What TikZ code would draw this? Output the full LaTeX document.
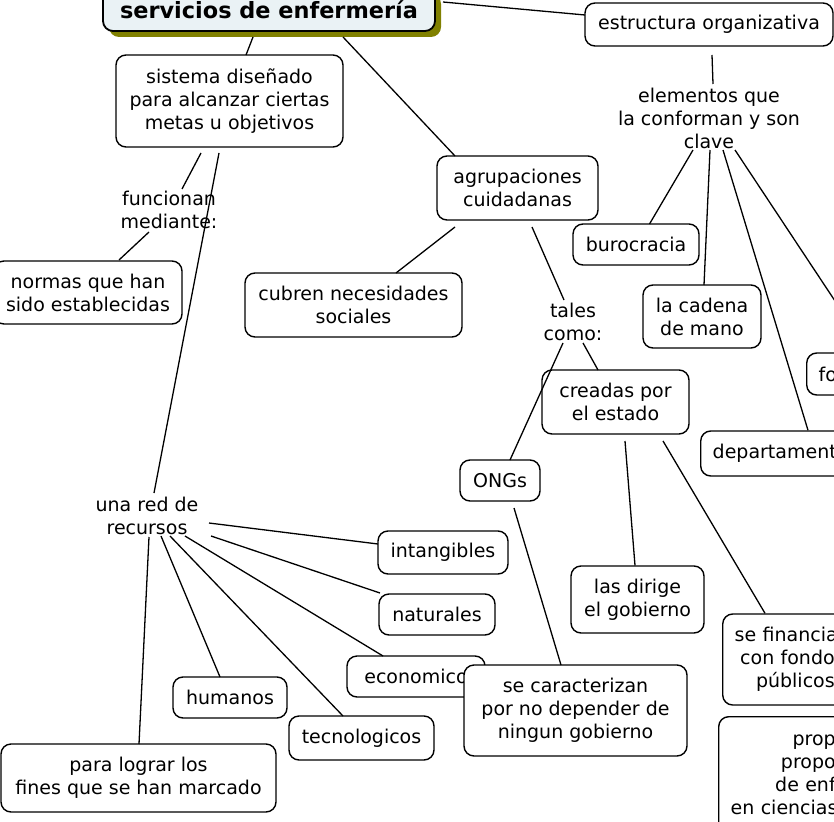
\documentclass[tikz,border=0pt]{standalone}
\usepackage{fontspec}
\setmainfont{DejaVu Sans}
\usetikzlibrary{calc}
\definecolor{olivesh}{RGB}{128,128,0}
\definecolor{titlefill}{RGB}{234,242,245}
\newcommand\mapfont{\fontsize{19}{23}\selectfont}
\newcommand\titlefont{\fontsize{22.4}{26}\selectfont\bfseries}
\begin{document}
\begin{tikzpicture}[x=1pt,y=-1pt,
  box/.style={draw, line width=1.4pt, rounded corners=10pt, fill=white, align=center, inner sep=0pt, font=\mapfont},
  lbl/.style={align=center, inner sep=1pt, font=\mapfont},
  con/.style={line width=1.3pt}]
\useasboundingbox (0,0) rectangle (834,821);
\clip (0,0) rectangle (834,821);
% title
\fill[olivesh, rounded corners=10pt] (109,-6) rectangle (441,37);
\node[box, fill=titlefill, line width=1.8pt, minimum width=332, minimum height=43, font=\titlefont] (title) at (269,9.5) {servicios de enfermería};
% nodes
\node[box, minimum width=248, minimum height=43] (estr) at (709,24.5) {estructura organizativa};
\node[lbl] (elem) at (709,118) {elementos que\\la conforman y son\\clave};
\node[box, minimum width=227, minimum height=92] (sist) at (229.5,101) {sistema diseñado\\para alcanzar ciertas\\metas u objetivos};
\node[lbl] (func) at (169,210) {funcionan\\mediante:};
\node[box, minimum width=188, minimum height=63] (normas) at (88,292.5) {normas que han\\sido establecidas};
\node[box, minimum width=161, minimum height=64] (agr) at (517.5,188) {agrupaciones\\cuidadanas};
\node[box, minimum width=217, minimum height=64] (cubren) at (353.5,305) {cubren necesidades\\sociales};
\node[box, minimum width=126, minimum height=41] (buro) at (636,244.5) {burocracia};
\node[box, minimum width=118, minimum height=63] (cadena) at (702,316.5) {la cadena\\de mano};
\node[box, anchor=west, align=left, inner xsep=12pt, text width=126pt, minimum height=42] (fo) at (806,374) {fo};
\node[lbl] (tales) at (573,322) {tales\\como:};
\node[box, minimum width=147, minimum height=64] (creadas) at (615.5,402) {creadas por\\el estado};
\node[box, anchor=west, align=left, inner xsep=12pt, text width=150pt, minimum height=45] (dep) at (700,453.5) {departament};
\node[box, minimum width=80, minimum height=41] (ongs) at (500,480.5) {ONGs};
\node[box, minimum width=133, minimum height=67] (dirige) at (637.5,599.5) {las dirige\\el gobierno};
\node[box, anchor=west, align=right, inner xsep=12pt, text width=100pt, minimum height=91] (financ) at (722,659.5) {\mbox{se financia}\\\mbox{con fondo}\\\mbox{públicos}};
\node[box, anchor=north west, align=right, inner xsep=12pt, text width=105pt, minimum height=117] (prop) at (718,716) {\mbox{prop}\\\mbox{propo}\\\mbox{de enf}\\\mbox{en ciencias}};
\node[lbl] (red) at (147,516) {una red de\\recursos};
\node[box, minimum width=130, minimum height=43] (intang) at (443,552.5) {intangibles};
\node[box, minimum width=116, minimum height=41] (natur) at (437,614.5) {naturales};
\node[box, minimum width=138, minimum height=41] (econ) at (416,676.5) {economico};
\node[box, minimum width=114, minimum height=41] (humanos) at (230,697.5) {humanos};
\node[box, minimum width=145, minimum height=44] (tecno) at (361.5,738) {tecnologicos};
\node[box, minimum width=223, minimum height=91] (carac) at (575.5,710.5) {se caracterizan\\por no depender de\\ningun gobierno};
\node[box, minimum width=275, minimum height=68] (lograr) at (138.5,778) {para lograr los\\fines que se han marcado};
% connectors
\draw[con] ($(title)+(174,-7.5)$) -- ($(estr)+(-124,-9.5)$);
\draw[con] ($(title)+(-16,27.5)$) -- ($(sist)+(16.5,-46)$);
\draw[con] ($(title)+(74,27.5)$) -- ($(agr)+(-62.5,-32)$);
\draw[con] ($(estr)+(3,30.5)$) -- ($(elem)+(4,-34)$);
\draw[con] ($(elem)+(-16,32)$) -- ($(buro)+(13.5,-20.5)$);
\draw[con] ($(elem)+(1,32)$) -- ($(cadena)+(2,-31.5)$);
\draw[con] ($(elem)+(14,32)$) -- ($(dep.north west)+(108,0)$);
\draw[con] ($(elem)+(26,32)$) -- ($(fo.north west)+(63,0)$);
\draw[con] ($(sist)+(-28.5,52)$) -- ($(func)+(13,-21)$);
\draw[con] ($(func)+(-20,22)$) -- ($(normas)+(31,-32.5)$);
\draw[con] ($(sist)+(-10.5,52)$) -- ($(red)+(7,-23)$);
\draw[con] ($(red)+(62,7)$) -- ($(intang)+(-65,-8.5)$);
\draw[con] ($(red)+(64,20)$) -- ($(natur)+(-57,-21.5)$);
\draw[con] ($(red)+(38,20)$) -- ($(econ)+(-33,-20.5)$);
\draw[con] ($(red)+(14,20)$) -- ($(humanos)+(-10,-20.5)$);
\draw[con] ($(red)+(23,20)$) -- ($(tecno)+(-18.5,-22)$);
\draw[con] ($(red)+(2,21)$) -- ($(lograr)+(0.5,-34)$);
\draw[con] ($(agr)+(-62.5,39)$) -- ($(cubren)+(42.5,-32)$);
\draw[con] ($(agr)+(14.5,39)$) -- ($(tales)+(-9,-22)$);
\draw[con] ($(tales)+(10,21)$) -- ($(creadas)+(-17.5,-32)$);
\draw[con] ($(tales)+(-10,21)$) -- ($(ongs)+(10,-20.5)$);
\draw[con] ($(creadas)+(9.5,39)$) -- ($(dirige)+(-2.5,-34)$);
\draw[con] ($(creadas)+(47.5,39)$) -- ($(financ.north west)+(43,0)$);
\draw[con] ($(ongs)+(14,27.5)$) -- ($(carac)+(-14.5,-45.5)$);
\end{tikzpicture}
\end{document}
